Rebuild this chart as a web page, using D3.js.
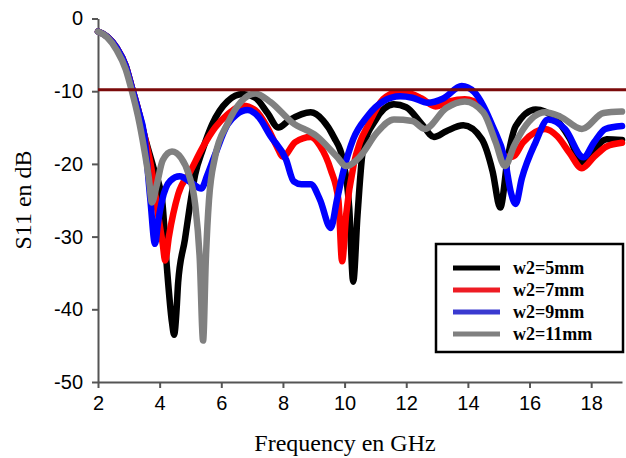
<!DOCTYPE html>
<html>
<head>
<meta charset="utf-8">
<script src="https://cdn.jsdelivr.net/npm/d3@7"></script>
<style>
  body { margin: 0; background: #fff; }
  svg { display: block; }
</style>
</head>
<body>
<svg id="chart" width="626" height="458"></svg>
<script>
// S11 curves, [GHz, dB]
const w5 = [[2,-1.8],[2.3,-2.5],[2.6,-4],[2.9,-6.5],[3.1,-9.5],[3.3,-12.5],[3.5,-16],[3.8,-20.5],[4.08,-25],[4.24,-34.5],[4.4,-41.8],[4.47,-43.5],[4.55,-40],[4.6,-36.3],[4.82,-30.4],[4.98,-25.8],[5.15,-21.5],[5.4,-18],[5.7,-14.6],[6.2,-11.4],[6.7,-10.4],[7.1,-10.9],[7.5,-13],[7.85,-15],[8.2,-14],[8.9,-12.9],[9.3,-14],[9.65,-16.3],[9.95,-19.5],[10.15,-26],[10.28,-36.2],[10.42,-27],[10.6,-18],[11.0,-14],[11.6,-11.8],[12.0,-12.2],[12.5,-14.5],[12.9,-16.3],[13.3,-15.5],[13.85,-14.7],[14.45,-16.6],[14.8,-21],[15.05,-26],[15.3,-19],[15.55,-14.8],[16.2,-12.5],[16.8,-13.6],[17.3,-16.5],[17.7,-19.8],[18.0,-18.5],[18.5,-16.6],[19,-16.7]];
const w7 = [[2,-1.8],[2.3,-2.5],[2.6,-4],[2.9,-6.5],[3.1,-9.5],[3.3,-12.5],[3.5,-16],[3.75,-21],[3.95,-27],[4.1,-31],[4.18,-33.3],[4.3,-30],[4.6,-24.2],[5.0,-21],[5.4,-17.7],[5.8,-15],[6.2,-13.2],[6.7,-12],[7.1,-12.6],[7.5,-15],[7.8,-17.6],[8.0,-19],[8.4,-17],[8.9,-16.3],[9.2,-17.5],[9.55,-20.8],[9.8,-25],[9.92,-33.4],[10.05,-27],[10.3,-20],[10.5,-17],[10.75,-14.8],[11.25,-11.1],[11.7,-10.2],[12.0,-10.2],[12.5,-11],[12.95,-12.1],[13.4,-11.4],[13.9,-11.1],[14.45,-12.1],[14.8,-15],[15.2,-19],[15.45,-19],[15.8,-17],[16.5,-15.2],[16.9,-16.2],[17.3,-18.5],[17.7,-20.6],[18.1,-19],[18.5,-17.6],[19,-17.1]];
const w9 = [[2,-1.8],[2.3,-2.5],[2.6,-4],[2.9,-6.5],[3.1,-9.5],[3.3,-12.5],[3.5,-16],[3.7,-25],[3.85,-31],[3.95,-28],[4.08,-25],[4.35,-22.3],[4.65,-21.7],[5.0,-22.5],[5.35,-23.4],[5.55,-21.5],[5.8,-18.7],[6.2,-14.6],[6.5,-13.2],[6.85,-12.6],[7.2,-13.5],[7.6,-16.2],[8.1,-19.4],[8.35,-22.4],[8.6,-22.8],[8.9,-22.8],[9.2,-24.9],[9.55,-28.8],[9.75,-25],[9.95,-21.2],[10.28,-16.6],[10.73,-13.5],[11.25,-11.4],[11.8,-10.7],[12.2,-10.9],[12.7,-11.6],[13.2,-11],[13.8,-9.3],[14.2,-10.1],[14.5,-12],[14.8,-14.8],[15.2,-19.4],[15.4,-24],[15.55,-25.5],[15.75,-22],[16.2,-17],[16.6,-13.9],[17.15,-15.2],[17.75,-19.1],[18.1,-17],[18.46,-15.2],[19,-14.8]];
const w11 = [[2,-1.8],[2.3,-2.6],[2.6,-4.3],[2.9,-7],[3.1,-10],[3.3,-13.5],[3.5,-18],[3.65,-22],[3.75,-25.3],[3.9,-23],[4.1,-19.5],[4.4,-18.3],[4.7,-19.2],[4.95,-21.5],[5.15,-25.5],[5.3,-33],[5.41,-44.3],[5.5,-33],[5.6,-25],[5.8,-19],[6.2,-14.5],[6.65,-11.4],[7.1,-10.3],[7.6,-11.5],[8.3,-14.3],[9.1,-16.2],[9.75,-19],[10.05,-20.3],[10.5,-19],[11.05,-15.7],[11.6,-13.9],[12.2,-14.1],[12.6,-15.2],[13.3,-12.3],[13.9,-11.4],[14.5,-12.9],[14.9,-17],[15.2,-20.3],[15.5,-17.5],[15.8,-15.2],[16.5,-12.9],[17.0,-13.5],[17.7,-15.2],[18.4,-13],[19,-12.8]];

const seriesNames = ['w2=5mm', 'w2=7mm', 'w2=9mm', 'w2=11mm'];
const seriesData = [w5, w7, w9, w11];
const seriesColors = ['#000000', '#ff0000', '#0000ff', '#808080'];
const legendColors = ['#000000', '#ee1c24', '#3a3ad0', '#808080'];

const xTicks = [2, 4, 6, 8, 10, 12, 14, 16, 18];
const yTicks = [0, -10, -20, -30, -40, -50];
const threshold = -10;

const svg = d3.select('#chart');

const x = d3.scaleLinear().domain([2, 19]).range([98, 622]);
const y = d3.scaleLinear().domain([-50, 0]).range([382, 18.5]);

// axes (plain hyphen for negatives, like the original)
const xAxis = svg.append('g')
    .attr('transform', `translate(0,${y(-50)})`)
    .call(d3.axisBottom(x).tickValues(xTicks).tickFormat(d => String(d)).tickSize(6).tickSizeOuter(0).tickPadding(8));
const yAxis = svg.append('g')
    .attr('transform', `translate(${x(2)},0)`)
    .call(d3.axisLeft(y).tickValues(yTicks).tickFormat(d => String(d)).tickSize(6).tickSizeOuter(0).tickPadding(9));

[xAxis, yAxis].forEach(a => {
    a.select('.domain').attr('stroke', '#555').attr('stroke-width', 2);
    a.selectAll('.tick line').attr('stroke', '#555').attr('stroke-width', 2);
    a.selectAll('.tick text')
        .attr('fill', '#000')
        .style('font-family', 'Arial, "Liberation Sans", sans-serif')
        .style('font-size', '20px');
});

// curves
const line = d3.line()
    .x(d => x(d[0]))
    .y(d => y(d[1]))
    .curve(d3.curveMonotoneX);

svg.append('g')
    .selectAll('path')
    .data(seriesData)
    .enter()
    .append('path')
    .attr('d', line)
    .attr('fill', 'none')
    .attr('stroke', (d, i) => seriesColors[i])
    .attr('stroke-width', 6.5)
    .attr('stroke-linejoin', 'round')
    .attr('stroke-linecap', 'round');

// -10 dB line
svg.append('line')
    .attr('x1', x(2)).attr('x2', 626)
    .attr('y1', y(threshold) - 1.5).attr('y2', y(threshold) - 1.5)
    .attr('stroke', '#7b0a0a')
    .attr('stroke-width', 3);

// axis titles
svg.append('text')
    .attr('x', 345).attr('y', 451)
    .attr('text-anchor', 'middle')
    .style('font-family', '"Liberation Serif", "Times New Roman", serif')
    .style('font-size', '24px')
    .text('Frequency en GHz');

svg.append('text')
    .attr('transform', 'translate(31,200) rotate(-90)')
    .attr('text-anchor', 'middle')
    .style('font-family', '"Liberation Serif", "Times New Roman", serif')
    .style('font-size', '24px')
    .text('S11 en dB');

// legend
const legend = svg.append('g');
legend.append('rect')
    .attr('x', 436).attr('y', 244)
    .attr('width', 187).attr('height', 108)
    .attr('fill', '#fff')
    .attr('stroke', '#000')
    .attr('stroke-width', 2.5);

const rows = legend.selectAll('g.row')
    .data(seriesNames)
    .enter()
    .append('g')
    .attr('class', 'row')
    .attr('transform', (d, i) => `translate(0,${268 + i * 22})`);

rows.append('line')
    .attr('x1', 453).attr('x2', 500)
    .attr('stroke', (d, i) => legendColors[i])
    .attr('stroke-width', 5);

rows.append('text')
    .attr('x', 513).attr('y', 6)
    .style('font-family', '"Liberation Serif", "Times New Roman", serif')
    .style('font-size', '18px')
    .style('font-weight', 'bold')
    .text(d => d);
</script>
</body>
</html>
